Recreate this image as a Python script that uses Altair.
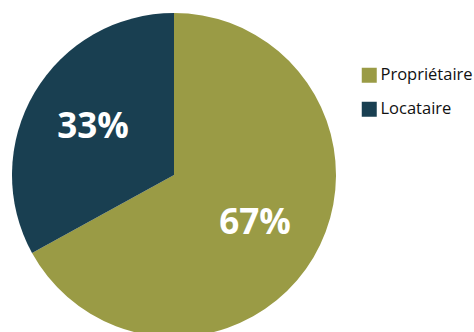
import altair as alt
import pandas as pd

categories = ["Propriétaire", "Locataire"]
values = [67, 33]
labels = ["67%", "33%"]
colors = ["#9A9B45", "#193F51"]

df = pd.DataFrame({"cat": categories, "val": values, "label": labels, "order": [0, 1]})

base = alt.Chart(df).encode(
    theta=alt.Theta("val:Q", stack=True),
    order=alt.Order("order:Q"),
    x=alt.value(174),
    y=alt.value(175),
)

pie = base.mark_arc(outerRadius=162, stroke=None).encode(
    color=alt.Color(
        "cat:N",
        scale=alt.Scale(domain=categories, range=colors),
        sort=categories,
        legend=alt.Legend(
            title=None,
            orient="none",
            legendX=361,
            legendY=67,
            symbolType="square",
            symbolSize=225,
            symbolStrokeWidth=0,
            labelFont="Open Sans",
            labelFontSize=16.5,
            labelColor="#111111",
            rowPadding=17,
            labelOffset=3,
            labelLimit=200,
            padding=0,
        ),
    )
)

text = base.mark_text(
    radius=94, font="Open Sans", fontWeight="bold", fontSize=35, color="white"
).encode(text="label:N")

chart = (
    alt.layer(pie, text)
    .properties(width=474, height=332, padding=0, autosize=alt.AutoSizeParams(type="none"))
    .configure_view(stroke=None)
)

chart.save("out.html", embed_options={"renderer": "svg", "actions": False})
